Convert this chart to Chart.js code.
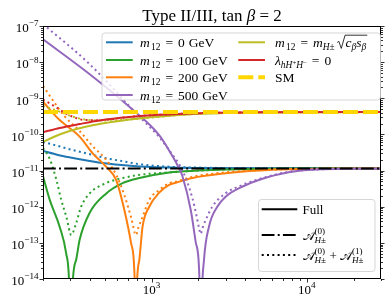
<!DOCTYPE html>
<html>
<head>
<meta charset="utf-8">
<script src="https://cdn.jsdelivr.net/npm/chart.js@4"></script>
<style>
  html, body { margin: 0; padding: 0; background: #fff; }
  #wrap { width: 392px; height: 304px; }
</style>
</head>
<body>
<div id="wrap"><canvas id="c"></canvas></div>
<script>
// charged Higgs mass (GeV) sample points and rates
const m0X = [200, 250, 300, 400, 500, 700, 1000, 1500, 2000, 3000, 5000, 10000, 30000];
const m0Full = [3.5e-11, 2.7e-11, 2.3e-11, 1.85e-11, 1.6e-11, 1.38e-11, 1.25e-11, 1.2e-11, 1.18e-11, 1.165e-11, 1.16e-11, 1.155e-11, 1.15e-11];
const m0DotX = [200, 250, 310, 400, 510, 650, 840, 1300, 2000, 3000, 5000, 10000, 30000];
const m0Dot = [6.2e-11, 4.8e-11, 3.7e-11, 2.84e-11, 2.2e-11, 1.82e-11, 1.5e-11, 1.28e-11, 1.21e-11, 1.18e-11, 1.165e-11, 1.155e-11, 1.15e-11];

const m100X = [200, 221, 256, 282, 297, 302, 307, 327, 344, 398, 509, 651, 834, 1298, 2000, 3000, 5000, 10000, 30000];
const m100Full = [7e-12, 1.55e-12, 2.8e-13, 5.1e-14, 3e-15, 1e-17, 3e-15, 3.4e-14, 1.2e-13, 6.6e-13, 2.3e-12, 4.5e-12, 6.2e-12, 8.9e-12, 1.0e-11, 1.07e-11, 1.11e-11, 1.14e-11, 1.15e-11];
const m100DotX = [200, 221, 244, 262, 283, 304, 327, 352, 398, 509, 651, 834, 1298, 2000, 3000, 5000, 10000, 30000];
const m100Dot = [4.2e-11, 2.1e-11, 5.5e-12, 1.55e-12, 5.2e-13, 1.65e-13, 3.5e-13, 1e-12, 2.3e-12, 4.5e-12, 6.2e-12, 7.6e-12, 8.9e-12, 1.0e-11, 1.08e-11, 1.12e-11, 1.14e-11, 1.15e-11];

const m200X = [200, 256, 344, 418, 509, 591, 668, 738, 774, 783, 789, 797, 834, 875, 966, 1120, 1298, 1433, 1831, 3000, 4900, 7640, 15000, 30000];
const m200Full = [8.0e-10, 2.5e-10, 8.7e-11, 3.0e-11, 1.28e-11, 5.5e-12, 8.1e-13, 9.8e-14, 1.8e-14, 2e-15, 1e-17, 2e-15, 3.4e-14, 2.8e-13, 1e-12, 2.45e-12, 4e-12, 4.6e-12, 6.2e-12, 8.4e-12, 1e-11, 1.08e-11, 1.13e-11, 1.15e-11];
const m200DotX = [200, 238, 275, 344, 416, 512, 593, 668, 740, 794, 821, 875, 966, 1120, 1298, 1433, 1831, 3000, 4900, 7640, 15000, 30000];
const m200Dot = [2.2e-9, 7.4e-10, 3.2e-10, 1.25e-10, 4.8e-11, 1.95e-11, 7.5e-12, 2.1e-12, 4.9e-13, 1.65e-13, 2.6e-13, 5.2e-13, 1.55e-12, 2.9e-12, 4.45e-12, 4.9e-12, 6.7e-12, 8.9e-12, 1.02e-11, 1.1e-11, 1.14e-11, 1.15e-11];

const m500X = [200, 398, 738, 1119, 1362, 1503, 1579, 1788, 1924, 2021, 2050, 2072, 2100, 2175, 2342, 2648, 2997, 3828, 4899, 7628, 12416, 25970, 30000];
const m500Full = [4.29e-8, 4.7e-9, 5.28e-10, 9.6e-11, 2.53e-11, 1.16e-11, 7.08e-12, 8.1e-13, 1.05e-13, 2.0e-14, 1.5e-15, 1e-17, 1.5e-15, 3.35e-14, 2.8e-13, 1e-12, 1.9e-12, 3.57e-12, 5.48e-12, 8.95e-12, 1.08e-11, 1.12e-11, 1.13e-11];
const m500DotX = [200, 398, 794, 1119, 1397, 1503, 1661, 1830, 1942, 2021, 2072, 2128, 2232, 2459, 2997, 3828, 4899, 7628, 12416, 25970, 30000];
const m500Dot = [1.13e-7, 8.9e-9, 3.84e-10, 8.5e-11, 2.37e-11, 1.52e-11, 6.2e-12, 1.74e-12, 5.9e-13, 2.57e-13, 1.76e-13, 2.57e-13, 4.3e-13, 1e-12, 2.35e-12, 3.98e-12, 5.8e-12, 9.2e-12, 1.09e-11, 1.13e-11, 1.14e-11];

const sqrtX = [200, 238, 297, 370, 462, 620, 834, 1298, 2021, 4899, 30000];
const sqrtFull = [6.17e-11, 8.75e-11, 1.24e-10, 1.6e-10, 1.94e-10, 2.35e-10, 2.75e-10, 3.27e-10, 3.72e-10, 4.05e-10, 4.15e-10];
const sqrtDotX = [200, 244, 311, 398, 535, 834, 1298, 2021, 4899, 30000];
const sqrtDot = [6.1e-10, 4.6e-10, 3.09e-10, 2.5e-10, 2.43e-10, 2.75e-10, 3.27e-10, 3.72e-10, 4.05e-10, 4.15e-10];

const lamX = [200, 256, 344, 462, 719, 1119, 2021, 4899, 30000];
const lamFull = [1.15e-10, 1.51e-10, 1.94e-10, 2.43e-10, 3.03e-10, 3.49e-10, 3.87e-10, 4.1e-10, 4.17e-10];
const lamDotX = [200, 244, 269, 311, 370, 462, 719, 1119, 2021, 4899, 30000];
const lamDot = [9.25e-10, 5.6e-10, 4.25e-10, 3.1e-10, 2.5e-10, 2.48e-10, 3.06e-10, 3.5e-10, 3.88e-10, 4.1e-10, 4.17e-10];

const edgeX = [200, 30000];
const smRate = [4.2e-10, 4.2e-10];
const treeRate = [1.15e-11, 1.15e-11];

const yTickExp = [-14, -13, -12, -11, -10, -9, -8, -7];
const xTickExp = [3, 4];

const SERIF = '"Liberation Serif", "DejaVu Serif", serif';
const DOT = [2, 3.3];

function pts(xs, ys) { return xs.map((x, i) => ({ x: x, y: ys[i] })); }

// bottom to top
const series = [
  { d: pts(m0X, m0Full), c: '#1f77b4' },
  { d: pts(m0DotX, m0Dot), c: '#1f77b4', dash: DOT },
  { d: pts(m100X, m100Full), c: '#2ca02c' },
  { d: pts(m100DotX, m100Dot), c: '#2ca02c', dash: DOT },
  { d: pts(m200X, m200Full), c: '#ff7f0e' },
  { d: pts(m200DotX, m200Dot), c: '#ff7f0e', dash: DOT },
  { d: pts(m500X, m500Full), c: '#9467bd' },
  { d: pts(m500DotX, m500Dot), c: '#9467bd', dash: DOT },
  { d: pts(sqrtX, sqrtFull), c: '#bcbd22' },
  { d: pts(sqrtDotX, sqrtDot), c: '#bcbd22', dash: DOT },
  { d: pts(lamX, lamFull), c: '#d62728' },
  { d: pts(lamDotX, lamDot), c: '#d62728', dash: DOT },
  { d: pts(edgeX, smRate), c: '#ffd700', dash: [15, 5], w: 4 },
  { d: pts(edgeX, treeRate), c: '#000000', dash: [12.8, 3.2, 2, 3.2] }
];

const datasets = series.map((s, i) => ({
  data: s.d,
  borderColor: s.c,
  borderWidth: s.w || 2,
  borderDash: s.dash || [],
  borderCapStyle: 'butt',
  pointRadius: 0,
  fill: false,
  cubicInterpolationMode: 'monotone',
  capBezierPoints: false,
  clip: 0,
  order: series.length - i
}));

function font(size, italic) { return (italic ? 'italic ' : '') + size + 'px ' + SERIF; }

// tiny math-ish text: parts with italic, scale, baseline shift, kerning, stacked scripts, sqrt
function rich(ctx, parts, x, y, size, draw) {
  let cx = x;
  for (const p of parts) {
    if (p.k !== undefined) {
      cx += p.k;
    } else if (p.stack) {
      const a = rich(ctx, p.stack[0], cx, y - 0.42 * size, size * 0.7, draw);
      const b = rich(ctx, p.stack[1], cx, y + 0.3 * size, size * 0.7, draw);
      cx = Math.max(a, b) + 0.5;
    } else if (p.sqrt) {
      const inner = cx + 0.62 * size;
      const end = rich(ctx, p.sqrt, inner, y, size, draw);
      if (draw) {
        ctx.save();
        ctx.lineWidth = 0.8;
        ctx.strokeStyle = '#000';
        ctx.beginPath();
        ctx.moveTo(cx, y - 0.32 * size);
        ctx.lineTo(cx + 0.12 * size, y - 0.4 * size);
        ctx.lineTo(cx + 0.3 * size, y + 0.12 * size);
        ctx.lineTo(cx + 0.58 * size, y - 0.86 * size);
        ctx.lineTo(end + 1, y - 0.86 * size);
        ctx.stroke();
        ctx.restore();
      }
      cx = end + 1;
    } else {
      ctx.font = font(size * (p.s || 1), p.i);
      if (draw) ctx.fillText(p.t, cx, y + (p.dy || 0) * size);
      cx += ctx.measureText(p.t).width;
    }
  }
  return cx;
}

const EQ = [{ k: 5 }, { t: '=' }, { k: 5 }];
const M12 = [{ t: 'm', i: 1 }, { k: 1.2 }, { t: '12', s: 0.7, dy: 0.25 }];
function m12(val) {
  return M12.concat(EQ, [{ t: val }, { k: 4 }, { t: 'GeV' }]);
}
const HPM = [{ t: 'H', i: 1 }, { t: '±' }];
const amp0 = [{ t: '𝒜' }, { stack: [[{ t: '(0)' }], HPM] }];
const amp1 = [{ t: '𝒜' }, { stack: [[{ t: '(1)' }], HPM] }];

const legendOne = [
  { col: 0, row: 0, c: '#1f77b4', txt: m12('0') },
  { col: 0, row: 1, c: '#2ca02c', txt: m12('100') },
  { col: 0, row: 2, c: '#ff7f0e', txt: m12('200') },
  { col: 0, row: 3, c: '#9467bd', txt: m12('500') },
  { col: 1, row: 0, c: '#bcbd22', txt: M12.concat(EQ, [{ t: 'm', i: 1 }, { t: 'H', i: 1, s: 0.7, dy: 0.25 }, { t: '±', s: 0.7, dy: 0.25 }, { k: 2.5 },
      { sqrt: [{ t: 'c', i: 1 }, { t: 'β', i: 1, s: 0.7, dy: 0.25 }, { t: 's', i: 1 }, { t: 'β', i: 1, s: 0.7, dy: 0.25 }] }]) },
  { col: 1, row: 1, c: '#d62728', txt: [{ t: 'λ', i: 1 }, { t: 'hH', i: 1, s: 0.7, dy: 0.28 }, { t: '+', s: 0.5, dy: 0.02 }, { t: 'H', i: 1, s: 0.7, dy: 0.28 }, { t: '−', s: 0.5, dy: 0.02 }].concat(EQ, [{ t: '0' }]) },
  { col: 1, row: 2, c: '#ffd700', dash: [15, 5], w: 4, txt: [{ t: 'SM' }] }
];
const legendTwo = [
  { y: 209.3, dash: [], txt: [{ t: 'Full' }] },
  { y: 235, dash: [12.8, 3.2, 2, 3.2], txt: amp0 },
  { y: 255, dash: DOT, txt: amp0.concat([{ k: 3 }, { t: '+' }, { k: 3 }], amp1) }
];

function handle(ctx, x0, x1, y, color, dash, w) {
  ctx.save();
  ctx.strokeStyle = color;
  ctx.lineWidth = w || 2;
  ctx.lineCap = 'butt';
  ctx.setLineDash(dash || []);
  ctx.beginPath();
  ctx.moveTo(x0, y);
  ctx.lineTo(x1, y);
  ctx.stroke();
  ctx.restore();
}

function box(ctx, x, y, w, h) {
  ctx.save();
  ctx.fillStyle = 'rgba(255,255,255,0.8)';
  ctx.strokeStyle = 'rgba(204,204,204,0.8)';
  ctx.lineWidth = 1;
  ctx.beginPath();
  ctx.roundRect(x, y, w, h, 3);
  ctx.fill();
  ctx.stroke();
  ctx.restore();
}

const decor = {
  id: 'decor',
  afterDatasetsDraw(chart) {
    const ctx = chart.ctx;
    const a = chart.chartArea;
    const xs = chart.scales.x, ys = chart.scales.y;
    ctx.save();
    ctx.fillStyle = '#000';
    ctx.textBaseline = 'alphabetic';

    // spines
    ctx.strokeStyle = '#000';
    ctx.lineWidth = 1;
    ctx.strokeRect(a.left + 0.5, a.top + 0.5, a.right - a.left - 1, a.bottom - a.top - 1);

    // ticks, log minors included
    const tick = (x0, y0, x1, y1) => { ctx.beginPath(); ctx.moveTo(x0, y0); ctx.lineTo(x1, y1); ctx.stroke(); };
    ctx.lineWidth = 0.8;
    for (let e = -14; e <= -7; e++) {
      for (let k = 1; k <= 9; k++) {
        const v = k * Math.pow(10, e);
        if (v > 1.0001e-7) break;
        const py = Math.round(ys.getPixelForValue(v)) + 0.5;
        const len = k === 1 ? 3.5 : 2;
        tick(a.left, py, a.left - len, py);
        tick(a.right, py, a.right + len, py);
      }
    }
    for (let e = 2; e <= 4; e++) {
      for (let k = 1; k <= 9; k++) {
        const v = k * Math.pow(10, e);
        if (v < 200 || v > 30000) continue;
        const px = Math.round(xs.getPixelForValue(v)) + 0.5;
        tick(px, a.bottom, px, a.bottom + (k === 1 ? 3.5 : 2));
      }
    }

    // tick labels
    const fs = 13;
    for (const e of yTickExp) {
      const py = ys.getPixelForValue(Math.pow(10, e));
      const parts = [{ t: '10' }, { t: '−' + Math.abs(e), s: 0.7, dy: -0.45 }];
      const w = rich(ctx, parts, 0, 0, fs, false);
      rich(ctx, parts, 38.5 - w, py + 6.3, fs, true);
    }
    for (const e of xTickExp) {
      const px = xs.getPixelForValue(Math.pow(10, e));
      const parts = [{ t: '10' }, { t: String(e), s: 0.7, dy: -0.45 }];
      const w = rich(ctx, parts, 0, 0, fs, false);
      rich(ctx, parts, px - w / 2, a.bottom + 14.5, fs, true);
    }

    // title
    const title = [{ t: 'Type II/III, tan ' }, { t: 'β', i: 1 }, { t: ' = 2' }];
    const tw = rich(ctx, title, 0, 0, 17, false);
    rich(ctx, title, (a.left + a.right) / 2 - tw / 2, 21, 17, true);

    // legend with the parameter choices
    box(ctx, 102, 33, 278.5, 67);
    const rows = [42.3, 60, 77.3, 95];
    const hx = [[106, 132.7, 140], [238.3, 265, 275]];
    for (const it of legendOne) {
      const y = rows[it.row];
      const h = hx[it.col];
      handle(ctx, h[0], h[1], y, it.c, it.dash, it.w);
      ctx.fillStyle = '#000';
      rich(ctx, it.txt, h[2], y + 4.5, 13.5, true);
    }

    // legend with line styles
    box(ctx, 258.5, 199.5, 116.5, 72);
    for (const it of legendTwo) {
      handle(ctx, 261.7, 297.3, it.y, '#000', it.dash, 2);
      ctx.fillStyle = '#000';
      rich(ctx, it.txt, 302.5, it.y + 4.5, 13, true);
    }
    ctx.restore();
  }
};

new Chart(document.getElementById('c'), {
  type: 'line',
  data: { datasets: datasets },
  options: {
    animation: false,
    responsive: true,
    maintainAspectRatio: false,
    devicePixelRatio: 1,
    layout: { padding: { left: 43, right: 11, top: 26, bottom: 25 } },
    plugins: { legend: { display: false }, tooltip: { enabled: false } },
    scales: {
      x: { type: 'logarithmic', min: 200, max: 30000, display: false },
      y: { type: 'logarithmic', min: 1e-14, max: 1e-7, display: false }
    }
  },
  plugins: [decor]
});
</script>
</body>
</html>
